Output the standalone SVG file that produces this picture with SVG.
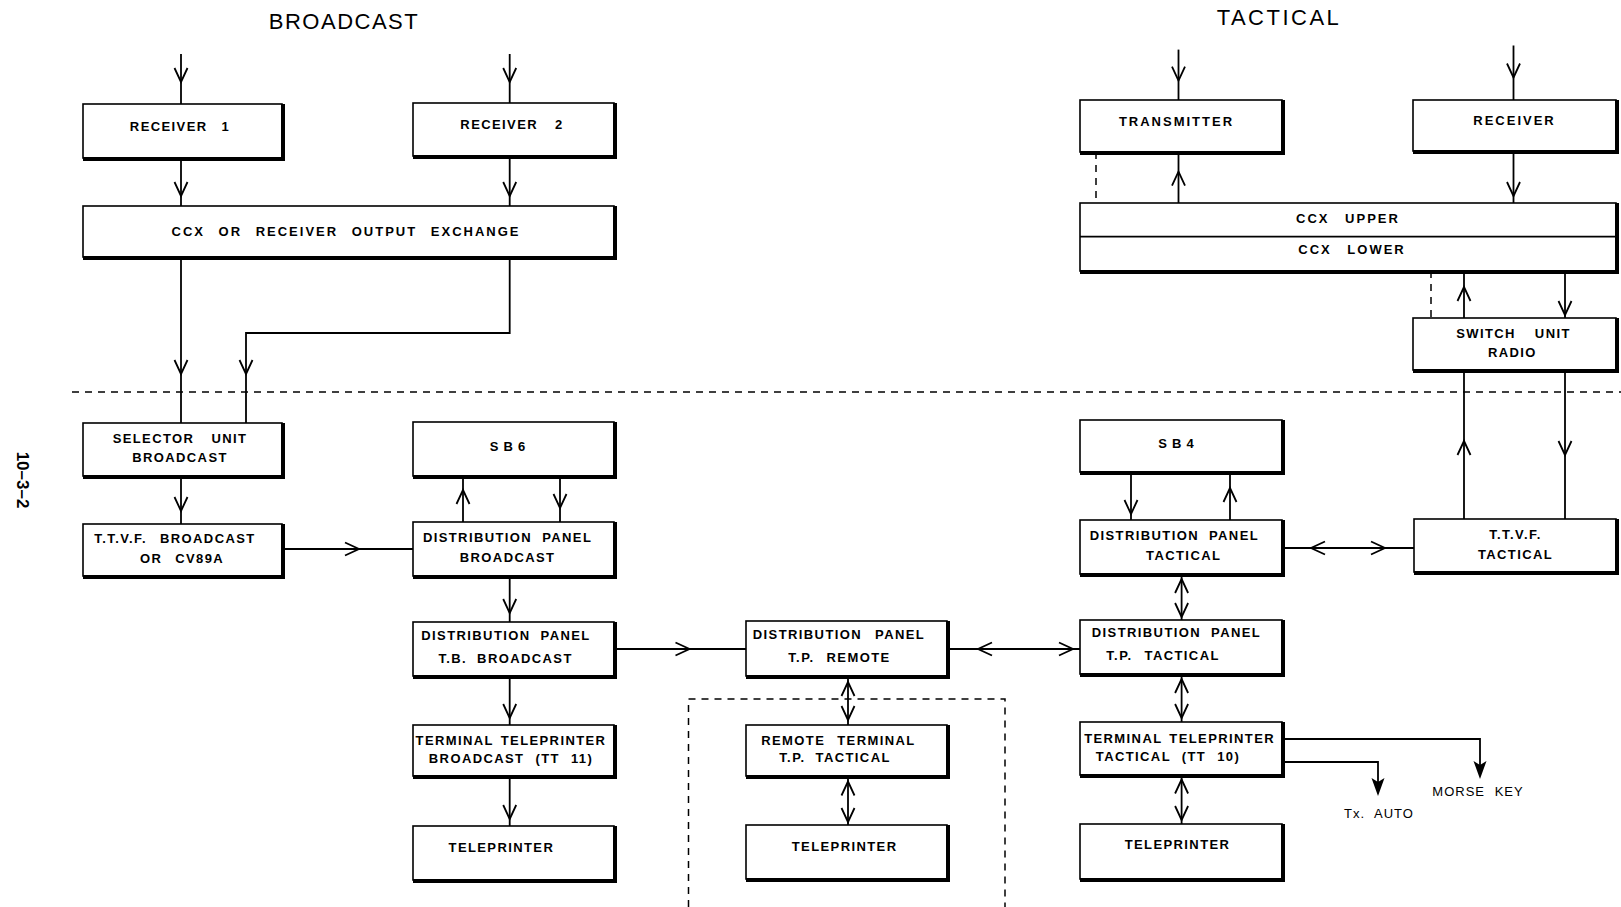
<svg xmlns="http://www.w3.org/2000/svg" xmlns:xlink="http://www.w3.org/1999/xlink" width="1621" height="907" viewBox="0 0 1621 907">
<style>
.bx{fill:#fff;stroke:#000;stroke-width:1.6}
.sh{fill:none;stroke:#000;stroke-width:4}
.ln{fill:none;stroke:#000;stroke-width:1.8}
.ds{fill:none;stroke:#000;stroke-width:1.5;stroke-dasharray:7,6}
.t{font-family:"Liberation Sans",Arial,sans-serif;font-weight:bold;font-size:13px;letter-spacing:1.4px;word-spacing:5px;text-anchor:middle;fill:#000}
.title{font-family:"Liberation Sans",Arial,sans-serif;font-size:22px;text-anchor:middle;fill:#000}
</style>
<defs>
<path id="ch" d="M-6.5,-14 L0,0 L6.5,-14" fill="none" stroke="#000" stroke-width="1.8"/>
<polygon id="fa" points="0,0 -6.5,-18 0,-14 6.5,-18" fill="#000"/>
</defs>

<text class="title" x="344" y="29" style="letter-spacing:1.5px">BROADCAST</text>
<text class="title" x="1279" y="25" style="letter-spacing:2.5px">TACTICAL</text>
<text x="17" y="480" transform="rotate(90 17 480)" style="font-family:'Liberation Sans',Arial,sans-serif;font-weight:bold;font-size:17px;text-anchor:middle">10–3–2</text>

<g id="connectors">
<path class="ds" d="M72,392 H1621"/>
<path class="ds" d="M688.5,907 V699 H1005 V907"/>
<path class="ds" d="M1096,152 V203"/>
<path class="ds" d="M1431,271 V318"/>
<path class="ln" d="M181,54 V104"/><use xlink:href="#ch" transform="translate(181,82)"/>
<path class="ln" d="M509.7,54 V103"/><use xlink:href="#ch" transform="translate(509.7,82)"/>
<path class="ln" d="M181,158 V206"/><use xlink:href="#ch" transform="translate(181,196)"/>
<path class="ln" d="M509.7,156 V206"/><use xlink:href="#ch" transform="translate(509.7,196)"/>
<path class="ln" d="M181,257 V423"/><use xlink:href="#ch" transform="translate(181,374)"/>
<path class="ln" d="M509.7,257 V333 H246 V423"/><use xlink:href="#ch" transform="translate(246,374)"/>
<path class="ln" d="M181,476 V524"/><use xlink:href="#ch" transform="translate(181,511)"/>
<path class="ln" d="M463,476 V522"/><use xlink:href="#ch" transform="translate(463,490) rotate(180)"/>
<path class="ln" d="M560,476 V522"/><use xlink:href="#ch" transform="translate(560,508)"/>
<path class="ln" d="M282,549 H413"/><use xlink:href="#ch" transform="translate(359,549) rotate(-90)"/>
<path class="ln" d="M509.7,576 V622"/><use xlink:href="#ch" transform="translate(509.7,613)"/>
<path class="ln" d="M509.7,676 V725"/><use xlink:href="#ch" transform="translate(509.7,718)"/>
<path class="ln" d="M509.7,776 V826"/><use xlink:href="#ch" transform="translate(509.7,819)"/>
<path class="ln" d="M614,649 H746"/><use xlink:href="#ch" transform="translate(689.5,649) rotate(-90)"/>
<path class="ln" d="M947,649 H1080"/><use xlink:href="#ch" transform="translate(978,649) rotate(90)"/><use xlink:href="#ch" transform="translate(1073,649) rotate(-90)"/>
<path class="ln" d="M848,676 V725"/><use xlink:href="#ch" transform="translate(848,682) rotate(180)"/><use xlink:href="#ch" transform="translate(848,720)"/>
<path class="ln" d="M848,776 V825"/><use xlink:href="#ch" transform="translate(848,781.5) rotate(180)"/><use xlink:href="#ch" transform="translate(848,822)"/>
<path class="ln" d="M1178.5,49.6 V100"/><use xlink:href="#ch" transform="translate(1178.5,80.6)"/>
<path class="ln" d="M1513.5,45.5 V100"/><use xlink:href="#ch" transform="translate(1513.5,77.5)"/>
<path class="ln" d="M1178.5,152 V203"/><use xlink:href="#ch" transform="translate(1178.5,171.6) rotate(180)"/>
<path class="ln" d="M1513.5,151 V203"/><use xlink:href="#ch" transform="translate(1513.5,196)"/>
<path class="ln" d="M1464,271 V318"/><use xlink:href="#ch" transform="translate(1464,287) rotate(180)"/>
<path class="ln" d="M1565,271 V318"/><use xlink:href="#ch" transform="translate(1565,315)"/>
<path class="ln" d="M1464,370 V519"/><use xlink:href="#ch" transform="translate(1464,441) rotate(180)"/>
<path class="ln" d="M1565,370 V519"/><use xlink:href="#ch" transform="translate(1565,455)"/>
<path class="ln" d="M1131,472 V520"/><use xlink:href="#ch" transform="translate(1131,514)"/>
<path class="ln" d="M1230,472 V520"/><use xlink:href="#ch" transform="translate(1230,488) rotate(180)"/>
<path class="ln" d="M1282,548 H1414"/><use xlink:href="#ch" transform="translate(1311,548) rotate(90)"/><use xlink:href="#ch" transform="translate(1385,548) rotate(-90)"/>
<path class="ln" d="M1181.6,574 V620"/><use xlink:href="#ch" transform="translate(1181.6,579) rotate(180)"/><use xlink:href="#ch" transform="translate(1181.6,617)"/>
<path class="ln" d="M1181.6,674 V722"/><use xlink:href="#ch" transform="translate(1181.6,679) rotate(180)"/><use xlink:href="#ch" transform="translate(1181.6,718)"/>
<path class="ln" d="M1181.6,775 V824"/><use xlink:href="#ch" transform="translate(1181.6,779.5) rotate(180)"/><use xlink:href="#ch" transform="translate(1181.6,820)"/>
<path class="ln" d="M1282,739 H1480 V770"/><use xlink:href="#fa" transform="translate(1480,779)"/>
<path class="ln" d="M1282,762 H1378 V787"/><use xlink:href="#fa" transform="translate(1378,796)"/>
</g>

<g id="receiver1"><rect class="bx" x="83" y="104" width="199" height="54"/><path class="sh" d="M283,104 V159 H83"/><text class="t" x="180" y="131" style="word-spacing:9px">RECEIVER 1</text></g>
<g id="receiver2"><rect class="bx" x="413" y="103" width="201" height="53"/><path class="sh" d="M615,103 V157 H413"/><text class="t" x="512" y="129" style="word-spacing:12px">RECEIVER 2</text></g>
<g id="ccx-broadcast"><rect class="bx" x="83" y="206" width="531" height="51"/><path class="sh" d="M615,206 V258 H83"/><text class="t" x="346" y="236" style="word-spacing:8px;letter-spacing:2px">CCX OR RECEIVER OUTPUT EXCHANGE</text></g>
<g id="selector-unit"><rect class="bx" x="83" y="423" width="199" height="53"/><path class="sh" d="M283,423 V477 H83"/><text class="t" x="180" y="443" style="word-spacing:12px">SELECTOR UNIT</text><text class="t" x="180" y="462">BROADCAST</text></g>
<g id="sb6"><rect class="bx" x="413" y="422" width="201" height="54"/><path class="sh" d="M615,422 V477 H413"/><text class="t" x="510" y="451" style="letter-spacing:5px">SB6</text></g>
<g id="ttvf-broadcast"><rect class="bx" x="83" y="524" width="199" height="52"/><path class="sh" d="M283,524 V577 H83"/><text class="t" x="175" y="543" style="word-spacing:8px">T.T.V.F. BROADCAST</text><text class="t" x="182" y="563" style="word-spacing:8px">OR CV89A</text></g>
<g id="dp-broadcast"><rect class="bx" x="413" y="522" width="201" height="54"/><path class="sh" d="M615,522 V577 H413"/><text class="t" x="507.6" y="542">DISTRIBUTION PANEL</text><text class="t" x="507.6" y="562">BROADCAST</text></g>
<g id="dp-tb-broadcast"><rect class="bx" x="413" y="622" width="201" height="54"/><path class="sh" d="M615,622 V677 H413"/><text class="t" x="506" y="640">DISTRIBUTION PANEL</text><text class="t" x="505.6" y="663">T.B. BROADCAST</text></g>
<g id="tt-broadcast"><rect class="bx" x="413" y="725" width="201" height="51"/><path class="sh" d="M615,725 V777 H413"/><text class="t" x="511" y="745" style="word-spacing:2px">TERMINAL TELEPRINTER</text><text class="t" x="511" y="763" style="word-spacing:6px">BROADCAST (TT 11)</text></g>
<g id="teleprinter-broadcast"><rect class="bx" x="413" y="826" width="201" height="54"/><path class="sh" d="M615,826 V881 H413"/><text class="t" x="501.4" y="852">TELEPRINTER</text></g>
<g id="dp-tp-remote"><rect class="bx" x="746" y="621" width="201" height="55"/><path class="sh" d="M948,621 V677 H746"/><text class="t" x="839" y="639" style="word-spacing:8px">DISTRIBUTION PANEL</text><text class="t" x="839.4" y="662" style="word-spacing:7px">T.P. REMOTE</text></g>
<g id="remote-terminal"><rect class="bx" x="746" y="725" width="201" height="51"/><path class="sh" d="M948,725 V777 H746"/><text class="t" x="838.4" y="745" style="word-spacing:7px">REMOTE TERMINAL</text><text class="t" x="835" y="762">T.P. TACTICAL</text></g>
<g id="teleprinter-remote"><rect class="bx" x="746" y="825" width="201" height="54"/><path class="sh" d="M948,825 V880 H746"/><text class="t" x="844.6" y="851">TELEPRINTER</text></g>
<g id="transmitter"><rect class="bx" x="1080" y="100" width="202" height="52"/><path class="sh" d="M1283,100 V153 H1080"/><text class="t" x="1176.5" y="125.6" style="letter-spacing:2px">TRANSMITTER</text></g>
<g id="receiver-tactical"><rect class="bx" x="1413" y="100" width="203" height="51"/><path class="sh" d="M1617,100 V152 H1413"/><text class="t" x="1514.5" y="124.5" style="letter-spacing:2px">RECEIVER</text></g>
<g id="ccx-tactical"><rect class="bx" x="1080" y="203" width="536" height="68"/><path class="ln" d="M1080,236.7 H1616"/><path class="sh" d="M1617,203 V272 H1080"/><text class="t" x="1348" y="222.7" style="word-spacing:10px;letter-spacing:2px">CCX UPPER</text><text class="t" x="1352" y="253.7" style="word-spacing:10px;letter-spacing:2px">CCX LOWER</text></g>
<g id="switch-unit"><rect class="bx" x="1413" y="318" width="203" height="52"/><path class="sh" d="M1617,318 V371 H1413"/><text class="t" x="1513.5" y="337.5" style="word-spacing:14px">SWITCH UNIT</text><text class="t" x="1512.4" y="357">RADIO</text></g>
<g id="sb4"><rect class="bx" x="1080" y="420" width="202" height="52"/><path class="sh" d="M1283,420 V473 H1080"/><text class="t" x="1178.5" y="448" style="letter-spacing:5px">SB4</text></g>
<g id="dp-tactical"><rect class="bx" x="1080" y="520" width="202" height="54"/><path class="sh" d="M1283,520 V575 H1080"/><text class="t" x="1174.4" y="540">DISTRIBUTION PANEL</text><text class="t" x="1183.7" y="560">TACTICAL</text></g>
<g id="ttvf-tactical"><rect class="bx" x="1414" y="519" width="202" height="53"/><path class="sh" d="M1617,519 V573 H1414"/><text class="t" x="1515.5" y="539">T.T.V.F.</text><text class="t" x="1515.5" y="558.7">TACTICAL</text></g>
<g id="dp-tp-tactical"><rect class="bx" x="1080" y="620" width="202" height="54"/><path class="sh" d="M1283,620 V675 H1080"/><text class="t" x="1176.5" y="637">DISTRIBUTION PANEL</text><text class="t" x="1163" y="660" style="word-spacing:7px">T.P. TACTICAL</text></g>
<g id="tt-tactical"><rect class="bx" x="1080" y="722" width="202" height="53"/><path class="sh" d="M1283,722 V776 H1080"/><text class="t" x="1179.6" y="742.6" style="word-spacing:2px">TERMINAL TELEPRINTER</text><text class="t" x="1168" y="761" style="word-spacing:6px">TACTICAL (TT 10)</text></g>
<g id="teleprinter-tactical"><rect class="bx" x="1080" y="824" width="202" height="55"/><path class="sh" d="M1283,824 V880 H1080"/><text class="t" x="1177.5" y="849">TELEPRINTER</text></g>
<g id="tx-auto"><text class="t" x="1379" y="818" style="font-weight:normal;letter-spacing:1px">Tx. AUTO</text></g>
<g id="morse-key"><text class="t" x="1478" y="796" style="font-weight:normal;letter-spacing:1px">MORSE KEY</text></g>
</svg>
